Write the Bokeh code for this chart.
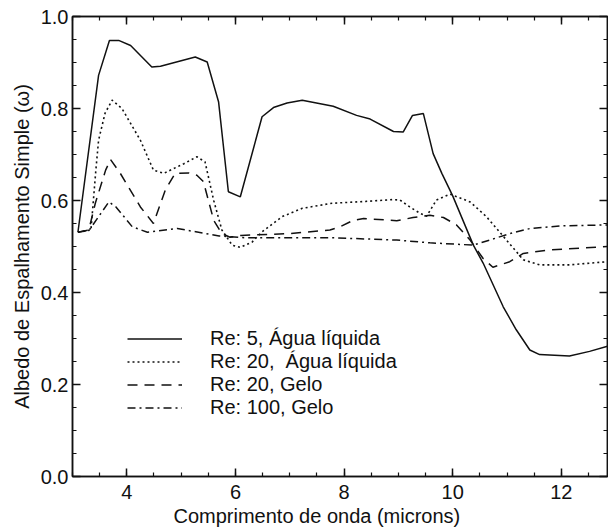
from bokeh.plotting import figure
from bokeh.models import (Range1d, LinearAxis, FixedTicker, Title, Legend, LegendItem,
                          CustomJSTickFormatter)
from bokeh.embed import file_html
from bokeh.resources import INLINE

# Single-scattering albedo vs wavelength (microns)
solid_x = [3.10, 3.48, 3.68, 3.85, 4.07, 4.46, 4.62, 5.26, 5.48, 5.69, 5.87, 6.09, 6.49,
           6.70, 6.95, 7.23, 7.80, 8.23, 8.48, 8.91, 9.09, 9.26, 9.46, 9.64, 9.80, 10.00,
           10.38, 10.56, 10.93, 11.17, 11.42, 11.60, 12.15, 12.52, 12.85]
solid_y = [0.531, 0.872, 0.948, 0.948, 0.937, 0.890, 0.892, 0.912, 0.901, 0.814, 0.619,
           0.608, 0.782, 0.802, 0.812, 0.818, 0.805, 0.785, 0.777, 0.750, 0.749, 0.785,
           0.789, 0.702, 0.659, 0.610, 0.503, 0.464, 0.369, 0.319, 0.275, 0.265, 0.262,
           0.272, 0.283]

dotted_x = [3.10, 3.34, 3.43, 3.48, 3.60, 3.73, 3.91, 4.25, 4.49, 4.68, 5.05, 5.29, 5.44,
            5.60, 5.75, 5.94, 6.09, 6.31, 6.49, 6.86, 7.23, 7.78, 8.40, 8.90, 9.03, 9.21,
            9.40, 9.52, 9.70, 9.95, 10.32, 10.62, 10.99, 11.30, 11.60, 12.15, 12.85]
dotted_y = [0.531, 0.536, 0.666, 0.731, 0.790, 0.818, 0.800, 0.731, 0.666, 0.659, 0.680,
            0.695, 0.684, 0.600, 0.536, 0.503, 0.498, 0.510, 0.532, 0.565, 0.583, 0.594,
            0.598, 0.602, 0.601, 0.586, 0.572, 0.566, 0.601, 0.614, 0.597, 0.565, 0.514,
            0.471, 0.460, 0.460, 0.467]

dashed_x = [3.10, 3.30, 3.42, 3.61, 3.70, 3.88, 4.25, 4.49, 4.71, 4.89, 5.14, 5.29, 5.41,
            5.60, 5.75, 5.90, 6.10, 7.00, 7.74, 7.93, 8.17, 8.36, 8.97, 9.27, 9.58, 9.83,
            10.07, 10.32, 10.56, 10.74, 11.05, 11.30, 11.73, 12.85]
dashed_y = [0.531, 0.536, 0.594, 0.666, 0.689, 0.659, 0.586, 0.550, 0.623, 0.659, 0.660,
            0.655, 0.641, 0.557, 0.528, 0.520, 0.524, 0.528, 0.536, 0.543, 0.557, 0.561,
            0.556, 0.563, 0.568, 0.563, 0.547, 0.514, 0.474, 0.455, 0.467, 0.485, 0.492,
            0.500]

dashdot_x = [3.10, 3.31, 3.67, 3.80, 4.10, 4.38, 4.59, 4.93, 5.27, 5.70, 6.19, 7.78, 8.97,
             9.58, 10.38, 10.68, 11.05, 11.42, 12.03, 12.85]
dashdot_y = [0.531, 0.536, 0.597, 0.586, 0.543, 0.531, 0.534, 0.539, 0.532, 0.523, 0.519,
             0.519, 0.514, 0.508, 0.503, 0.514, 0.528, 0.539, 0.545, 0.547]

series_labels = ["Re: 5, Água líquida", "Re: 20,\u00a0 Água líquida",
                 "Re: 20, Gelo", "Re: 100, Gelo"]
x_ticks = [4, 6, 8, 10, 12]
y_ticks = [0.0, 0.2, 0.4, 0.6, 0.8, 1.0]
x_title = "Comprimento de onda (microns)"
y_title = "Albedo de Espalhamento Simple (ω)"

FONT = "Liberation Sans"
INK = "#111111"

p = figure(width=608, height=527, output_backend="svg", toolbar_location=None,
           x_range=Range1d(3.0, 12.85), y_range=Range1d(0.0, 1.0),
           min_border_left=72, min_border_right=1, min_border_top=16,
           min_border_bottom=50, x_axis_location=None, y_axis_location=None)
p.grid.visible = False
p.background_fill_color = "white"
p.border_fill_color = "white"
p.outline_line_color = INK
p.outline_line_width = 1.5


def make_axis(ticks, minor, show_labels):
    ax = LinearAxis(ticker=FixedTicker(ticks=ticks, minor_ticks=minor))
    ax.axis_line_color = INK
    ax.axis_line_width = 1.5
    ax.major_tick_line_color = INK
    ax.minor_tick_line_color = INK
    ax.major_tick_line_width = 1.5
    ax.minor_tick_line_width = 1.2
    ax.major_tick_in = 8
    ax.major_tick_out = 0
    ax.minor_tick_in = 4
    ax.minor_tick_out = 0
    if show_labels:
        ax.major_label_text_font = FONT
        ax.major_label_text_font_size = "20px"
        ax.major_label_text_color = INK
    else:
        # tick marks only on the top/right frame edges
        ax.formatter = CustomJSTickFormatter(code="return ''")
        ax.major_label_standoff = 0
    return ax


x_minor = [3.0 + 0.5 * i for i in range(20)]
y_minor = [0.05 * i for i in range(21)]

xb = make_axis(x_ticks, x_minor, True)
xb.major_label_standoff = 8
xb.major_label_overrides = {t: str(t) for t in x_ticks}
p.add_layout(xb, "below")
xt = make_axis(x_ticks, x_minor, False)
p.add_layout(xt, "above")
yl = make_axis(y_ticks, y_minor, True)
yl.major_label_standoff = 4
yl.major_label_overrides = {t: f"{t:.1f}" for t in y_ticks}
yl.axis_label = y_title
yl.axis_label_text_font = FONT
yl.axis_label_text_font_size = "20px"
yl.axis_label_text_font_style = "normal"
yl.axis_label_text_color = INK
yl.axis_label_standoff = 5
p.add_layout(yl, "left")
yr = make_axis(y_ticks, y_minor, False)
p.add_layout(yr, "right")

# x-axis title placed as a bottom title so it can be shifted along the axis
p.add_layout(Title(text=x_title, align="left", offset=101, standoff=2,
                   text_font=FONT, text_font_size="20px", text_font_style="normal",
                   text_color=INK), "below")

r1 = p.line(solid_x, solid_y, line_color=INK, line_width=1.5)
r2 = p.line(dotted_x, dotted_y, line_color=INK, line_width=1.6, line_dash="2 3")
r3 = p.line(dashed_x, dashed_y, line_color=INK, line_width=1.5, line_dash="10 7")
r4 = p.line(dashdot_x, dashdot_y, line_color=INK, line_width=1.5, line_dash="8 4 2 4")

legend = Legend(items=[LegendItem(label=lab, renderers=[r]) for lab, r in
                       zip(series_labels, [r1, r2, r3, r4])],
                location=(55, 57), orientation="vertical",
                glyph_width=55, glyph_height=23, label_height=23,
                label_standoff=28, spacing=0, padding=0, margin=0,
                label_text_font=FONT, label_text_font_size="20px",
                label_text_color=INK, border_line_color=None,
                background_fill_alpha=0)
p.add_layout(legend, "center")

open("out.html", "w").write(file_html(p, INLINE))
